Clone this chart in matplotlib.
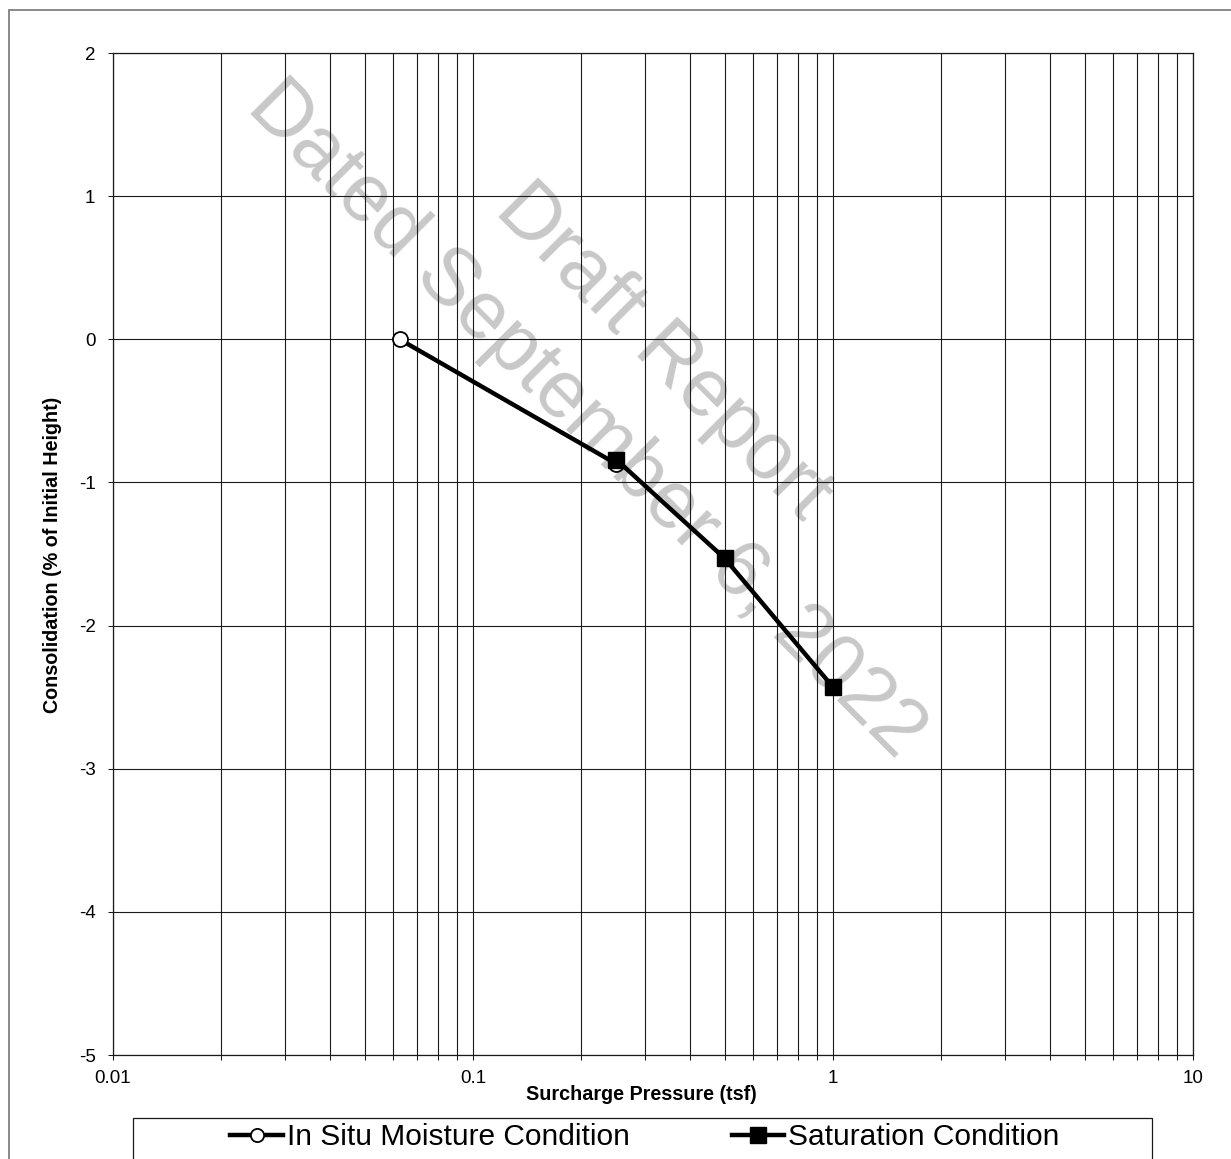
import numpy as np
import matplotlib
matplotlib.use("Agg")
import matplotlib.pyplot as plt
from matplotlib.lines import Line2D
from matplotlib.patches import Rectangle
from matplotlib.ticker import NullFormatter, LogLocator

plt.rcParams['font.family'] = ['Liberation Sans', 'DejaVu Sans']

# data
in_situ_p = [0.0625, 0.25]
in_situ_c = [0.0, -0.87]
sat_p = [0.25, 0.5, 1.0]
sat_c = [-0.84, -1.53, -2.43]

x_ticks = [0.01, 0.1, 1, 10]
x_tick_labels = ["0.01", "0.1", "1", "10"]
y_ticks = [-5, -4, -3, -2, -1, 0, 1, 2]

W, H = 1231, 1159
fig = plt.figure(figsize=(W / 100, H / 100), dpi=100)

# watermark, behind everything
wm_color = '#c8c8c8'
fig.text(663 / W, 1 - 352 / H, "Draft Report", fontsize=58, color=wm_color,
         rotation=-45, rotation_mode='anchor', ha='center', va='center', zorder=-5)
fig.text(586 / W, 1 - 420 / H, "Dated September 6, 2022", fontsize=58, color=wm_color,
         rotation=-45, rotation_mode='anchor', ha='center', va='center', zorder=-5)

ax = fig.add_axes([113 / W, 1 - 1055 / H, 1080 / W, 1002 / H])
ax.set_facecolor('none')
ax.set_xscale('log')
ax.set_xlim(0.01, 10)
ax.set_ylim(-5, 2)

ax.set_xticks(x_ticks)
ax.set_xticklabels(x_tick_labels)
ax.xaxis.set_minor_locator(LogLocator(base=10, subs=np.arange(2, 10)))
ax.xaxis.set_minor_formatter(NullFormatter())
ax.set_yticks(y_ticks)
ax.set_yticklabels([str(v) for v in y_ticks])

ax.grid(which='both', axis='x', color='#1a1a1a', lw=0.8)
ax.grid(which='major', axis='y', color='#1a1a1a', lw=0.8)
for s in ax.spines.values():
    s.set_color('#1a1a1a')
    s.set_linewidth(0.9)

ax.tick_params(axis='both', which='both', direction='out', length=3.6, width=0.75,
               labelsize=13.5, color='#1a1a1a')
ax.tick_params(axis='y', pad=9)
ax.tick_params(axis='x', pad=7)

ax.plot(in_situ_p, in_situ_c, color='black', lw=3.2, marker='o', markersize=10.8,
        markerfacecolor='white', markeredgecolor='black', markeredgewidth=1.3, zorder=3,
        clip_on=False)
ax.plot(sat_p, sat_c, color='black', lw=3.2, marker='s', markersize=11.2,
        markerfacecolor='black', markeredgecolor='black', zorder=4, clip_on=False)

fig.text(641 / W, 1 - 1100 / H, "Surcharge Pressure (tsf)", fontsize=14.2,
         fontweight='bold', ha='center', va='baseline')
fig.text(53 / W, 1 - 555 / H, "Consolidation (% of Initial Height)", fontsize=14.2,
         fontweight='bold', ha='center', va='center', rotation=90)

# legend with a manual box
handles = [
    Line2D([], [], color='black', lw=3.2, marker='o', markersize=9.5,
           markerfacecolor='white', markeredgecolor='black', markeredgewidth=1.3),
    Line2D([], [], color='black', lw=3.2, marker='s', markersize=11,
           markerfacecolor='black', markeredgecolor='black'),
]
fig.legend(handles, ["In Situ Moisture Condition", "Saturation Condition"],
           loc='center', bbox_to_anchor=(645 / W, 1 - 1137 / H), ncol=2,
           frameon=False, fontsize=21.5, handlelength=1.75, handletextpad=0.15,
           columnspacing=3.4, borderpad=0, borderaxespad=0)
fig.patches.append(Rectangle((133 / W, -0.05), (1152 - 133) / W, (H - 1118) / H + 0.05,
                             transform=fig.transFigure, fill=False, edgecolor='#1a1a1a',
                             lw=0.9))

# outer chart border
fig.patches.append(Rectangle((9 / W, -0.1), 1.2, 1 - 10 / H + 0.1,
                             transform=fig.transFigure, fill=False, edgecolor='#808080',
                             lw=1.3))

fig.savefig("out.png", dpi=100)
